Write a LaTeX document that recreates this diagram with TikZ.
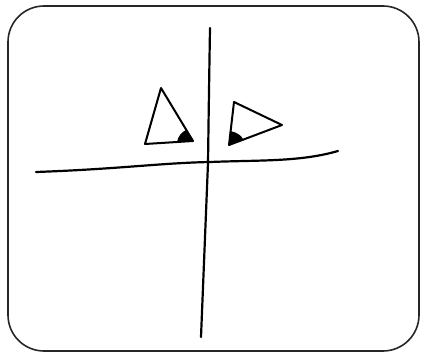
\documentclass[tikz,border=0pt]{standalone}
\begin{document}
\begin{tikzpicture}[x=1pt,y=-1pt,
  stroke/.style={line width=2.2pt,line cap=round,line join=round,black},
  framestyle/.style={line width=1.6pt,draw=black!85,rounded corners=36pt}]
\useasboundingbox (0,0) rectangle (421,353);
\fill[white] (0,0) rectangle (421,353);
% frame
\draw[framestyle] (8,6) rectangle (419,351);
% vertical line
\coordinate (vt) at (210,28);
\coordinate (vm) at (208,163);
\coordinate (vb) at (201,337);
\draw[stroke] (vt) .. controls (209,90) .. (vm) .. controls (205,250) .. (vb);
% horizontal line
\coordinate (hl) at (36,172);
\coordinate (hm) at (210,162);
\coordinate (hr) at (338,151);
\draw[stroke] (hl) .. controls (120,169) and (160,163) .. (hm) .. controls (260,160) and (300,162) .. (hr);
% left triangle
\coordinate (la) at (161,88);
\coordinate (lb) at (145,144);
\coordinate (lc) at (193,141);
\draw[stroke,line width=2pt] (la) -- (lb) -- (lc) -- cycle;
\fill[black] (lc) -- (177,142) .. controls (178,136) and (182,132) .. (186,130) -- cycle;
% right triangle
\coordinate (ra) at (234,102);
\coordinate (rb) at (282,125);
\coordinate (rc) at (229,145);
\draw[stroke,line width=2pt] (ra) -- (rb) -- (rc) -- cycle;
\fill[black] (rc) -- (230,131) .. controls (236,132) and (241,135) .. (243,139) -- cycle;
\end{tikzpicture}
\end{document}
